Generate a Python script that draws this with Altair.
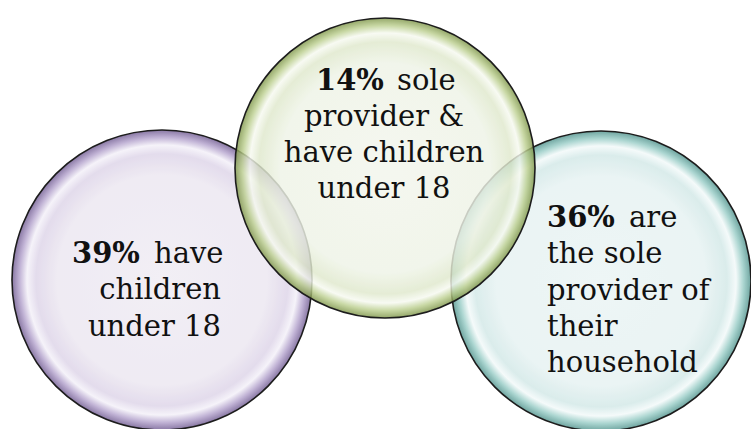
import altair as alt
import pandas as pd

# ---- data ----
groups = ["children", "both", "sole"]
percents = ["39%", "14%", "36%"]
first_words = ["have", "sole", "are"]
other_lines = [
    ["children", "under 18"],
    ["provider &", "have children", "under 18"],
    ["the sole", "provider of", "their", "household"],
]

# ---- layout (pixels) ----
W, H = 751, 429
centers = {"children": (162, 280), "both": (385, 168), "sole": (601, 281)}
R = 150
FONT = "DejaVu Serif"
FS = 29
LH = 36.3
# per group: (first baseline, align for other lines, x for other lines, x of bold, x of first word)
text_layout = {
    "children": (263, "right", 221, 72, 154),
    "both": (89.5, "center", 384, 316, 397),
    "sole": (227, "left", 547, 547, 629),
}
palette = {
    "children": ["#efebf3", "#ebe6f0", "#ddd4e8", "#f3f0f8", "#b3a2cc", "#6f5a90"],
    "both": ["#f2f5ec", "#eef3e6", "#dfe8cc", "#f6f9f0", "#bccf90", "#7d9448"],
    "sole": ["#eaf4f4", "#e5f1f1", "#d2e8e7", "#f2f9f9", "#98ccc6", "#4f918b"],
}

xs = alt.Scale(domain=[0, W], range=[0, W])
ys = alt.Scale(domain=[0, H], range=[0, H])


def X(f):
    return alt.X(f, type="quantitative", scale=xs, axis=None)


def Y(f):
    return alt.Y(f, type="quantitative", scale=ys, axis=None)


layers = []
for g in ["children", "sole", "both"]:
    cx, cy = centers[g]
    c = palette[g]
    grad = {
        "gradient": "radial",
        "x1": 0.5, "y1": 0.5, "r1": 0,
        "x2": 0.5, "y2": 0.5, "r2": 0.5,
        "stops": [
            {"offset": 0.0, "color": c[0]},
            {"offset": 0.7, "color": c[1]},
            {"offset": 0.84, "color": c[2]},
            {"offset": 0.9, "color": c[3]},
            {"offset": 0.95, "color": c[4]},
            {"offset": 1.0, "color": c[5]},
        ],
    }
    df = pd.DataFrame({"x": [cx], "y": [cy], "g": [g]})
    layers.append(
        alt.Chart(df)
        .mark_point(shape="circle", filled=True, fill=grad, fillOpacity=0.82,
                    stroke="#1c1c1c", strokeWidth=1.6, strokeOpacity=1,
                    size=(2 * R) ** 2)
        .encode(x=X("x"), y=Y("y"))
    )

for i, g in enumerate(groups):
    y0, align, lx, bx, fx = text_layout[g]
    lines = other_lines[i]
    df_lines = pd.DataFrame({
        "x": [lx] * len(lines),
        "y": [y0 + LH * (k + 1) for k in range(len(lines))],
        "t": lines,
    })
    layers.append(
        alt.Chart(df_lines)
        .mark_text(font=FONT, fontSize=FS, align=align, baseline="alphabetic", color="#111111")
        .encode(x=X("x"), y=Y("y"), text="t:N")
    )
    df_b = pd.DataFrame({"x": [bx], "y": [y0], "t": [percents[i]]})
    layers.append(
        alt.Chart(df_b)
        .mark_text(font=FONT, fontSize=FS, fontWeight="bold", align="left",
                   baseline="alphabetic", color="#111111")
        .encode(x=X("x"), y=Y("y"), text="t:N")
    )
    df_f = pd.DataFrame({"x": [fx], "y": [y0], "t": [first_words[i]]})
    layers.append(
        alt.Chart(df_f)
        .mark_text(font=FONT, fontSize=FS, align="left", baseline="alphabetic", color="#111111")
        .encode(x=X("x"), y=Y("y"), text="t:N")
    )

chart = (
    alt.layer(*layers)
    .properties(width=W, height=H, padding=0, autosize=alt.AutoSizeParams(type="none"),
                background="white")
    .configure_view(stroke=None)
)

chart.save("out.html", embed_options={"renderer": "svg", "actions": False})
